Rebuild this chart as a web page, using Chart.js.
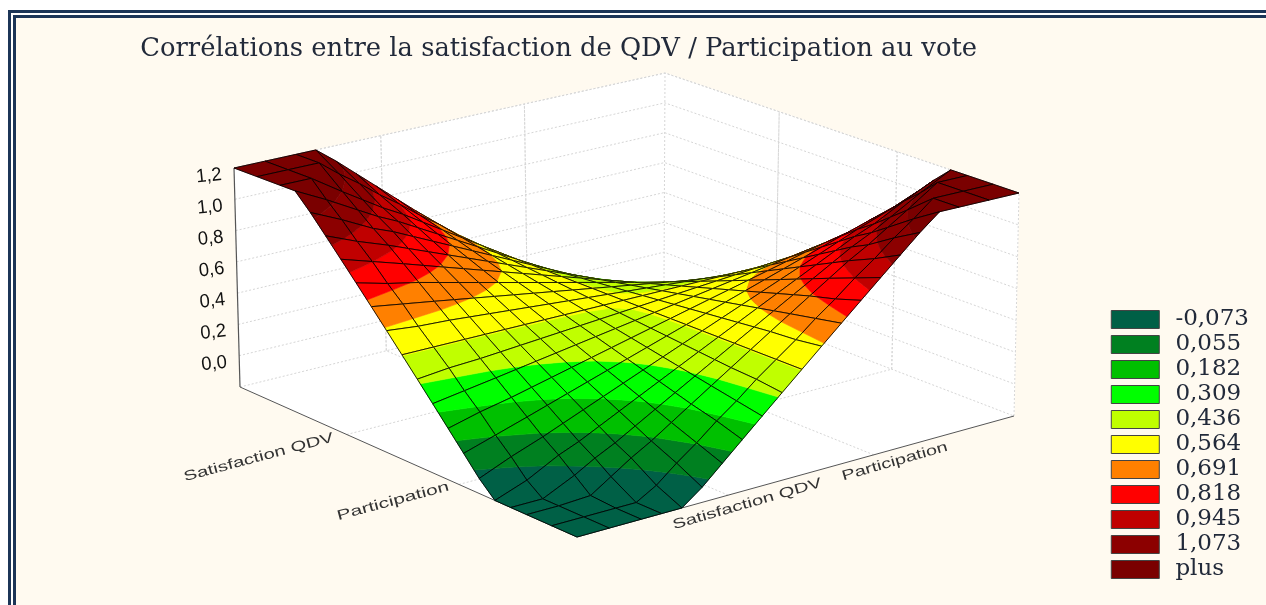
<!DOCTYPE html>
<html>
<head>
<meta charset="utf-8">
<title>Corrélations</title>
<style>
html, body { margin: 0; padding: 0; background: #fff; overflow: hidden; }
#frame { position: absolute; left: 8px; top: 10px; width: 1300px; height: 640px; background: #1c3557; }
#frame2 { position: absolute; left: 3px; top: 3px; width: 1300px; height: 640px; background: #fff; }
#frame3 { position: absolute; left: 2px; top: 2px; width: 1300px; height: 640px; background: #1c3557; }
#frame4 { position: absolute; left: 3px; top: 3px; width: 1300px; height: 640px; background: #fffaf0; }
canvas { position: absolute; left: 0; top: 0; }
</style>
<script src="https://cdn.jsdelivr.net/npm/chart.js@4"></script>
</head>
<body>
<div id="frame"><div id="frame2"><div id="frame3"><div id="frame4"></div></div></div></div>
<canvas id="chart" width="1266" height="605"></canvas>
<script>
var titleText = "Corrélations entre la satisfaction de QDV / Participation au vote";
var categories = ["Satisfaction QDV", "Participation"];
var categoryTicks = [1 / 3, 2 / 3];
var zTicks = [0.0, 0.2, 0.4, 0.6, 0.8, 1.0, 1.2];
var zMin = -0.2;
var zMax = 1.2;
var legendLabels = ["-0,073", "0,055", "0,182", "0,309", "0,436", "0,564", "0,691", "0,818", "0,945", "1,073", "plus"];
var legendColours = ["#006046", "#008020", "#00c000", "#00ff00", "#c0ff00", "#ffff00", "#ff8000", "#ff0000", "#c00000", "#8c0000", "#7a0000"];

// mesh lines along both floor directions, as read from the surface
var meshNodes = [0, 0.07, 0.14, 0.185, 0.23, 0.275, 0.32, 0.365, 0.41, 0.455, 0.5, 0.545, 0.59, 0.635, 0.68, 0.725, 0.77, 0.815, 0.86, 0.93, 1];

// surface heights, row = Participation side, column = Satisfaction side
var surface = [
    [-0.2, -0.2, -0.2, -0.2, -0.2, -0.11, 0, 0.11, 0.22, 0.33, 0.44, 0.55, 0.66, 0.77, 0.88, 0.99, 1.1, 1.2, 1.2, 1.2, 1.2],
    [-0.2, -0.2, -0.2, -0.2, -0.13, -0.03, 0.06, 0.16, 0.25, 0.35, 0.44, 0.53, 0.63, 0.72, 0.82, 0.91, 1.01, 1.1, 1.2, 1.2, 1.2],
    [-0.2, -0.2, -0.19, -0.11, -0.03, 0.04, 0.12, 0.2, 0.28, 0.36, 0.44, 0.52, 0.6, 0.68, 0.76, 0.84, 0.91, 0.99, 1.07, 1.2, 1.2],
    [-0.2, -0.2, -0.11, -0.04, 0.02, 0.09, 0.16, 0.23, 0.3, 0.37, 0.44, 0.51, 0.58, 0.65, 0.72, 0.79, 0.86, 0.92, 0.99, 1.1, 1.2],
    [-0.2, -0.13, -0.03, 0.02, 0.08, 0.14, 0.2, 0.26, 0.32, 0.38, 0.44, 0.5, 0.56, 0.62, 0.68, 0.74, 0.8, 0.86, 0.91, 1.01, 1.1],
    [-0.11, -0.03, 0.04, 0.09, 0.14, 0.19, 0.24, 0.29, 0.34, 0.39, 0.44, 0.49, 0.54, 0.59, 0.64, 0.69, 0.74, 0.79, 0.84, 0.91, 0.99],
    [0, 0.06, 0.12, 0.16, 0.2, 0.24, 0.28, 0.32, 0.36, 0.4, 0.44, 0.48, 0.52, 0.56, 0.6, 0.64, 0.68, 0.72, 0.76, 0.82, 0.88],
    [0.11, 0.16, 0.2, 0.23, 0.26, 0.29, 0.32, 0.35, 0.38, 0.41, 0.44, 0.47, 0.5, 0.53, 0.56, 0.59, 0.62, 0.65, 0.68, 0.72, 0.77],
    [0.22, 0.25, 0.28, 0.3, 0.32, 0.34, 0.36, 0.38, 0.4, 0.42, 0.44, 0.46, 0.48, 0.5, 0.52, 0.54, 0.56, 0.58, 0.6, 0.63, 0.66],
    [0.33, 0.35, 0.36, 0.37, 0.38, 0.39, 0.4, 0.41, 0.42, 0.43, 0.44, 0.45, 0.46, 0.47, 0.48, 0.49, 0.5, 0.51, 0.52, 0.53, 0.55],
    [0.44, 0.44, 0.44, 0.44, 0.44, 0.44, 0.44, 0.44, 0.44, 0.44, 0.44, 0.44, 0.44, 0.44, 0.44, 0.44, 0.44, 0.44, 0.44, 0.44, 0.44],
    [0.55, 0.53, 0.52, 0.51, 0.5, 0.49, 0.48, 0.47, 0.46, 0.45, 0.44, 0.43, 0.42, 0.41, 0.4, 0.39, 0.38, 0.37, 0.36, 0.35, 0.33],
    [0.66, 0.63, 0.6, 0.58, 0.56, 0.54, 0.52, 0.5, 0.48, 0.46, 0.44, 0.42, 0.4, 0.38, 0.36, 0.34, 0.32, 0.3, 0.28, 0.25, 0.22],
    [0.77, 0.72, 0.68, 0.65, 0.62, 0.59, 0.56, 0.53, 0.5, 0.47, 0.44, 0.41, 0.38, 0.35, 0.32, 0.29, 0.26, 0.23, 0.2, 0.16, 0.11],
    [0.88, 0.82, 0.76, 0.72, 0.68, 0.64, 0.6, 0.56, 0.52, 0.48, 0.44, 0.4, 0.36, 0.32, 0.28, 0.24, 0.2, 0.16, 0.12, 0.06, 0],
    [0.99, 0.91, 0.84, 0.79, 0.74, 0.69, 0.64, 0.59, 0.54, 0.49, 0.44, 0.39, 0.34, 0.29, 0.24, 0.19, 0.14, 0.09, 0.04, -0.03, -0.11],
    [1.1, 1.01, 0.91, 0.86, 0.8, 0.74, 0.68, 0.62, 0.56, 0.5, 0.44, 0.38, 0.32, 0.26, 0.2, 0.14, 0.08, 0.02, -0.03, -0.13, -0.2],
    [1.2, 1.1, 0.99, 0.92, 0.86, 0.79, 0.72, 0.65, 0.58, 0.51, 0.44, 0.37, 0.3, 0.23, 0.16, 0.09, 0.02, -0.04, -0.11, -0.2, -0.2],
    [1.2, 1.2, 1.07, 0.99, 0.91, 0.84, 0.76, 0.68, 0.6, 0.52, 0.44, 0.36, 0.28, 0.2, 0.12, 0.04, -0.03, -0.11, -0.19, -0.2, -0.2],
    [1.2, 1.2, 1.2, 1.1, 1.01, 0.91, 0.82, 0.72, 0.63, 0.53, 0.44, 0.35, 0.25, 0.16, 0.06, -0.03, -0.13, -0.2, -0.2, -0.2, -0.2],
    [1.2, 1.2, 1.2, 1.2, 1.1, 0.99, 0.88, 0.77, 0.66, 0.55, 0.44, 0.33, 0.22, 0.11, 0, -0.11, -0.2, -0.2, -0.2, -0.2, -0.2]
];

// the box as seen on screen: corners are front, left, back, right
var floorCorners = [[577, 537], [240, 387], [664, 282], [1014, 416]];
var roofCorners = [[578, 297], [234, 168], [665, 73], [1019, 193]];

function quadMapper(q) {
    var dx1 = q[1][0] - q[2][0], dx2 = q[3][0] - q[2][0], sx = q[0][0] - q[1][0] + q[2][0] - q[3][0];
    var dy1 = q[1][1] - q[2][1], dy2 = q[3][1] - q[2][1], sy = q[0][1] - q[1][1] + q[2][1] - q[3][1];
    var den = dx1 * dy2 - dx2 * dy1;
    var g = (sx * dy2 - dx2 * sy) / den, h = (dx1 * sy - sx * dy1) / den;
    var a = q[1][0] - q[0][0] + g * q[1][0], b = q[3][0] - q[0][0] + h * q[3][0];
    var d = q[1][1] - q[0][1] + g * q[1][1], e = q[3][1] - q[0][1] + h * q[3][1];
    return function (u, v) {
        var w = g * u + h * v + 1;
        return [(a * u + b * v + q[0][0]) / w, (d * u + e * v + q[0][1]) / w];
    };
}
var floorMap = quadMapper(floorCorners);
var roofMap = quadMapper(roofCorners);

function project(u, v, z) {
    var t = (z - zMin) / (zMax - zMin);
    var p = floorMap(u, v), r = roofMap(u, v);
    return { x: p[0] + (r[0] - p[0]) * t, y: p[1] + (r[1] - p[1]) * t };
}

// cuts a cell polygon at a height, keeps the part above or below it
function cutAt(poly, level, above) {
    var out = [];
    for (var i = 0; i < poly.length; i++) {
        var a = poly[i], b = poly[(i + 1) % poly.length];
        var ina = above ? a.z >= level : a.z <= level;
        var inb = above ? b.z >= level : b.z <= level;
        if (ina) out.push(a);
        if (ina !== inb) {
            var t = (level - a.z) / (b.z - a.z);
            out.push({ u: a.u + (b.u - a.u) * t, v: a.v + (b.v - a.v) * t, z: level });
        }
    }
    return out;
}

function closedPath(poly) {
    var pts = poly.map(function (p) { return project(p.u, p.v, p.z); });
    pts.push({ x: pts[0].x, y: pts[0].y });
    return pts;
}

function lineSet(points, colour, width, dash) {
    return { data: points, showLine: true, fill: false, borderColor: colour, borderWidth: width, borderDash: dash || [], pointRadius: 0, tension: 0, clip: false };
}

function areaSet(points, colour) {
    return { data: points, showLine: true, fill: "shape", backgroundColor: colour, borderColor: colour, borderWidth: 0.6, pointRadius: 0, tension: 0, clip: false };
}

var levels = legendLabels.slice(0, -1).map(function (l) { return parseFloat(l.replace(",", ".")); });
var datasets = [];

// chart draws the last dataset first, so the front cells go in first
var cells = [];
for (var i = 0; i < meshNodes.length - 1; i++) {
    for (var j = 0; j < meshNodes.length - 1; j++) {
        cells.push([i, j]);
    }
}
cells.sort(function (a, b) { return (a[0] + a[1]) - (b[0] + b[1]); });

cells.forEach(function (c) {
    var i = c[0], j = c[1];
    var poly = [
        { u: meshNodes[i], v: meshNodes[j], z: surface[i][j] },
        { u: meshNodes[i + 1], v: meshNodes[j], z: surface[i + 1][j] },
        { u: meshNodes[i + 1], v: meshNodes[j + 1], z: surface[i + 1][j + 1] },
        { u: meshNodes[i], v: meshNodes[j + 1], z: surface[i][j + 1] }
    ];
    datasets.push(lineSet(closedPath(poly), "rgba(0,0,0,0.85)", 1));
    for (var k = legendColours.length - 1; k >= 0; k--) {
        var part = poly;
        if (k > 0) part = cutAt(part, levels[k - 1], true);
        if (k < levels.length && part.length) part = cutAt(part, levels[k], false);
        if (part.length > 2) datasets.push(areaSet(closedPath(part), legendColours[k]));
    }
});

// axis lines in front of the grid
var axisGrey = "#555555";
datasets.push(lineSet([project(1, 0, zMin), project(1, 0, zMax)], axisGrey, 1.2));
datasets.push(lineSet([project(1, 0, zMin), project(0, 0, zMin)], axisGrey, 1));
datasets.push(lineSet([project(0, 0, zMin), project(0, 1, zMin)], axisGrey, 1));

// dotted grid on walls and floor
var gridGrey = "#d6d6d6";
var dots = [2, 2];
zTicks.forEach(function (z) {
    datasets.push(lineSet([project(1, 0, z), project(1, 1, z), project(0, 1, z)], gridGrey, 1, dots));
});
categoryTicks.forEach(function (t) {
    datasets.push(lineSet([project(1, t, zMin), project(1, t, zMax)], gridGrey, 1, dots));
    datasets.push(lineSet([project(t, 1, zMin), project(t, 1, zMax)], gridGrey, 1, dots));
    datasets.push(lineSet([project(t, 0, zMin), project(t, 1, zMin), project(t, 1, zMax)], gridGrey, 1, dots));
    datasets.push(lineSet([project(0, t, zMin), project(1, t, zMin), project(1, t, zMax)], gridGrey, 1, dots));
});
datasets.push(lineSet([project(1, 1, zMin), project(1, 1, zMax)], gridGrey, 1, dots));
datasets.push(lineSet([project(0, 1, zMin), project(0, 1, zMax), project(1, 1, zMax), project(1, 0, zMax)], gridGrey, 1, dots));
datasets.push(lineSet([project(1, 0, zMin), project(1, 1, zMin), project(0, 1, zMin)], gridGrey, 1, dots));

// white box behind everything
datasets.push(areaSet([
    project(1, 0, zMax), project(1, 1, zMax), project(0, 1, zMax),
    project(0, 1, zMin), project(0, 0, zMin), project(1, 0, zMin), project(1, 0, zMax)
], "#ffffff"));

// tick and category text, anchored through the scales
var boxLabels = {
    id: "boxLabels",
    afterDraw: function (chart) {
        var ctx = chart.ctx;
        var xs = chart.scales.x, ys = chart.scales.y;
        function put(text, anchor, dx, dy, angle, stretch) {
            ctx.save();
            ctx.translate(xs.getPixelForValue(anchor.x) + dx, ys.getPixelForValue(anchor.y) + dy);
            ctx.rotate(angle * Math.PI / 180);
            ctx.scale(stretch, 1);
            ctx.textAlign = "center";
            ctx.textBaseline = "middle";
            ctx.fillText(text, 0, 0);
            ctx.restore();
        }
        ctx.save();
        ctx.fillStyle = "#111";
        ctx.font = "19px 'Liberation Sans'";
        zTicks.forEach(function (z) {
            put(z.toFixed(1).replace(".", ","), project(1, 0, z), -25, 8, -6, 0.97);
        });
        ctx.fillStyle = "#333";
        ctx.font = "14px 'Liberation Sans'";
        put(categories[0], project(2 / 3, 0, zMin), -88, 23, -15, 1.45);
        put(categories[1], project(1 / 3, 0, zMin), -66, 17, -15, 1.5);
        put(categories[0], project(0, 1 / 3, zMin), 19, 9, -16, 1.45);
        put(categories[1], project(0, 2 / 3, zMin), 21, 7, -16, 1.42);
        ctx.restore();
    }
};

var chart = new Chart(document.getElementById("chart").getContext("2d"), {
    type: "scatter",
    data: { datasets: datasets },
    plugins: [boxLabels],
    options: {
        responsive: false,
        animation: false,
        events: [],
        layout: { padding: { left: 8, right: 7, bottom: 22 } },
        scales: {
            x: { type: "linear", display: false },
            y: { type: "linear", display: false, reverse: true }
        },
        plugins: {
            tooltip: { enabled: false },
            title: {
                display: true,
                text: titleText,
                fullSize: false,
                color: "#222a3a",
                font: { family: "'DejaVu Serif'", size: 25.8, weight: "normal" },
                padding: { top: 34, bottom: 2 }
            },
            legend: {
                display: true,
                position: "right",
                align: "end",
                labels: {
                    boxWidth: 48,
                    boxHeight: 18,
                    padding: 2,
                    color: "#222a3a",
                    font: { family: "'DejaVu Serif'", size: 23 },
                    generateLabels: function () {
                        return legendLabels.map(function (l, idx) {
                            return { text: "\u2009" + l, fillStyle: legendColours[idx], strokeStyle: "#444", lineWidth: 1, hidden: false, fontColor: "#222a3a" };
                        });
                    }
                }
            }
        }
    }
});

// one data unit = one canvas pixel, so the scales follow the final chart area
var area = chart.chartArea;
chart.options.scales.x.min = area.left;
chart.options.scales.x.max = area.right;
chart.options.scales.y.min = area.top;
chart.options.scales.y.max = area.bottom;
chart.update("none");
</script>
</body>
</html>
